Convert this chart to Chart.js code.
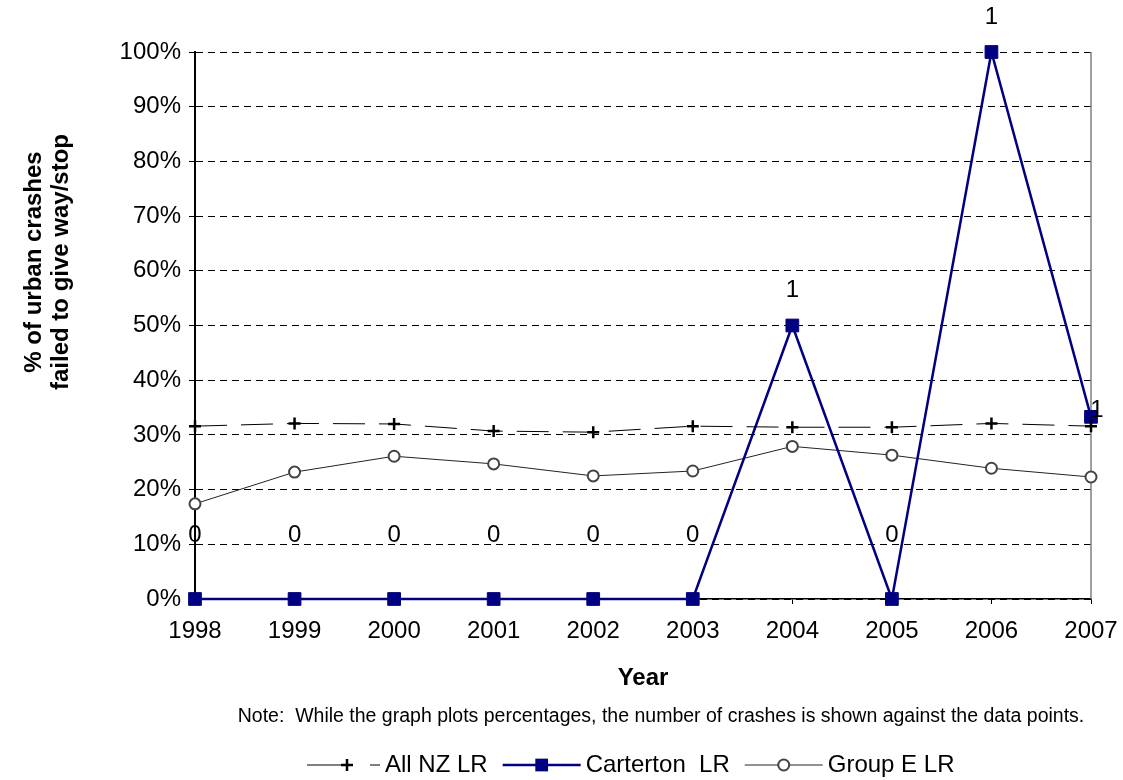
<!DOCTYPE html>
<html>
<head>
<meta charset="utf-8">
<script src="https://cdn.jsdelivr.net/npm/chart.js@4/dist/chart.umd.min.js"></script>
<style>
  html, body { margin: 0; background: #fff; }
</style>
</head>
<body>
<canvas id="crash-chart" width="1123" height="780"></canvas>
<script>
const years = ["1998", "1999", "2000", "2001", "2002", "2003", "2004", "2005", "2006", "2007"];
const allNzLR = [31.6, 32.1, 32.0, 30.7, 30.5, 31.6, 31.4, 31.4, 32.1, 31.6];
const cartertonLR = [0, 0, 0, 0, 0, 0, 50, 0, 100, 33.3];
const groupELR = [17.4, 23.2, 26.1, 24.7, 22.5, 23.4, 27.9, 26.3, 23.9, 22.3];
const cartertonCrashes = [0, 0, 0, 0, 0, 0, 1, 0, 1, 1];

const yTitle = ["% of urban crashes", "failed to give way/stop"];
const xTitle = "Year";
const note = "Note:  While the graph plots percentages, the number of crashes is shown against the data points.";

const FONT = "'Liberation Sans', Arial, sans-serif";

// draws a series sample (line + marker) for the legend
function drawSample(ctx, ds, x, y) {
  const dashed = ds.pointStyle === "cross";
  const w = dashed ? 73 : 78;
  const mx = dashed ? x + 40 : x + w / 2;
  ctx.save();
  ctx.strokeStyle = ds.borderColor;
  ctx.lineWidth = ds.borderWidth;
  ctx.setLineDash(dashed ? [40, 23, 10] : []);
  ctx.beginPath();
  ctx.moveTo(x, y);
  ctx.lineTo(x + w, y);
  ctx.stroke();
  ctx.setLineDash([]);
  ctx.lineWidth = ds.pointBorderWidth;
  ctx.strokeStyle = ds.pointBorderColor;
  ctx.fillStyle = ds.pointBackgroundColor;
  if (ds.pointStyle === "cross") {
    const r = ds.pointRadius;
    ctx.beginPath();
    ctx.moveTo(mx - r, y); ctx.lineTo(mx + r, y);
    ctx.moveTo(mx, y - r); ctx.lineTo(mx, y + r);
    ctx.stroke();
  } else if (ds.pointStyle === "rect") {
    const h = ds.pointRadius / Math.SQRT2;
    ctx.fillRect(mx - h, y - h, 2 * h, 2 * h);
  } else {
    ctx.beginPath();
    ctx.arc(mx, y, ds.pointRadius, 0, Math.PI * 2);
    ctx.fill();
    ctx.stroke();
  }
  ctx.restore();
  return w;
}

const extrasPlugin = {
  id: "extras",
  beforeDatasetsDraw(chart) {
    const ctx = chart.ctx;
    const area = chart.chartArea;
    // right frame line
    ctx.save();
    ctx.strokeStyle = "#808080";
    ctx.lineWidth = 1.5;
    ctx.beginPath();
    ctx.moveTo(area.right, area.top);
    ctx.lineTo(area.right, area.bottom);
    ctx.stroke();
    ctx.restore();
  },
  afterDatasetsDraw(chart) {
    const ctx = chart.ctx;
    // crash counts above Carterton points
    const meta = chart.getDatasetMeta(1);
    ctx.save();
    ctx.fillStyle = "#000";
    ctx.font = "24px " + FONT;
    ctx.textAlign = "center";
    ctx.textBaseline = "middle";
    meta.data.forEach((pt, i) => {
      let dx = 0, dy = -35;
      if (cartertonLR[i] === 0) dy = -64;
      if (i === meta.data.length - 1) { dx = 6; dy = -6; }
      ctx.fillText(String(cartertonCrashes[i]), pt.x + dx, pt.y + dy);
    });
    ctx.restore();
  },
  afterDraw(chart) {
    const ctx = chart.ctx;
    const area = chart.chartArea;
    ctx.save();
    ctx.fillStyle = "#000";
    ctx.textAlign = "center";
    ctx.textBaseline = "middle";

    // y title, two lines rotated
    ctx.font = "bold 24px " + FONT;
    ctx.save();
    ctx.translate(34, 262);
    ctx.rotate(-Math.PI / 2);
    ctx.fillText(yTitle[0], 0, 0);
    ctx.fillText(yTitle[1], 0, 27);
    ctx.restore();

    // x title
    ctx.fillText(xTitle, (area.left + area.right) / 2, 678);

    // note
    ctx.font = "19.5px " + FONT;
    ctx.fillText(note, 661, 717);

    // legend
    ctx.font = "24px " + FONT;
    ctx.textAlign = "left";
    const ly = 765;
    let x = 307;
    chart.data.datasets.forEach((ds) => {
      x += drawSample(ctx, ds, x, ly) + 5;
      ctx.fillText(ds.label, x, ly);
      x += ctx.measureText(ds.label).width + 15;
    });
    ctx.restore();
  }
};

new Chart(document.getElementById("crash-chart"), {
  type: "line",
  data: {
    labels: years,
    datasets: [
      {
        label: "All NZ LR",
        data: allNzLR,
        borderColor: "#000",
        borderWidth: 1,
        borderDash: [32, 14],
        pointStyle: "cross",
        pointRadius: 6,
        pointBorderWidth: 2.5,
        pointBorderColor: "#000",
        pointBackgroundColor: "#000",
        clip: false,
        tension: 0
      },
      {
        label: "Carterton  LR",
        data: cartertonLR,
        borderColor: "#000080",
        borderWidth: 2.5,
        pointStyle: "rect",
        pointRadius: 9,
        pointBorderWidth: 1,
        pointBorderColor: "#000080",
        pointBackgroundColor: "#000080",
        clip: false,
        tension: 0
      },
      {
        label: "Group E LR",
        data: groupELR,
        borderColor: "#222",
        borderWidth: 1,
        pointStyle: "circle",
        pointRadius: 5.5,
        pointBorderWidth: 2,
        pointBorderColor: "#444",
        pointBackgroundColor: "#fff",
        clip: false,
        tension: 0
      }
    ]
  },
  options: {
    responsive: false,
    animation: false,
    layout: { padding: { top: 52, right: 32, bottom: 71, left: 0 } },
    plugins: {
      legend: { display: false },
      tooltip: { enabled: false }
    },
    scales: {
      x: {
        type: "category",
        offset: false,
        grid: { drawOnChartArea: false, tickLength: 5, color: "#000" },
        border: { color: "#000", width: 1.5 },
        ticks: { color: "#000", padding: 13, maxRotation: 0, font: { family: FONT, size: 24 } },
        afterFit: (s) => { s.height = 110; s.paddingLeft = 0; s.paddingRight = 0; }
      },
      y: {
        min: 0,
        max: 100,
        grid: { color: "#000", lineWidth: 1, tickLength: 6, tickBorderDash: [] },
        border: { color: "#000", width: 2, dash: [7, 5] },
        ticks: {
          stepSize: 10,
          color: "#000",
          padding: 8,
          font: { family: FONT, size: 24 },
          callback: (v) => v + "%"
        },
        afterFit: (s) => { s.width = 195; }
      }
    }
  },
  plugins: [extrasPlugin]
});
</script>
</body>
</html>
